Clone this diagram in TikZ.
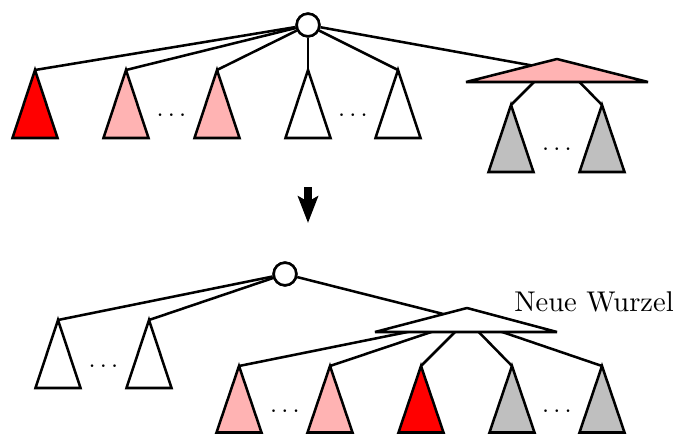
\documentclass[tikz,border=0pt]{standalone}
\usepackage{fontspec}
\usetikzlibrary{arrows.meta}
\definecolor{redt}{RGB}{255,0,0}
\definecolor{pinkt}{RGB}{255,179,179}
\definecolor{grayt}{RGB}{191,191,191}
\newcommand\subtri[3]{\filldraw[tri,fill=#2] (#1) -- ++(-22.5,#3) -- ++(45,0) -- cycle;}
\begin{document}
\begin{tikzpicture}[x=0.75pt,y=-0.75pt,
  edge/.style={draw,line width=1.9pt},
  tri/.style={draw,line width=1.9pt},
  flattri/.style={draw,line width=1.9pt,line join=bevel},
  knot/.style={circle,draw,fill=white,line width=1.9pt,minimum size=17pt,inner sep=0pt},
  dotsnode/.style={anchor=base,inner sep=0pt,scale=1.9},
  label/.style={anchor=base,inner sep=0pt,scale=2.14}]
\useasboundingbox (0,0) rectangle (675,435);
% ---------- top tree ----------
\coordinate (tA) at (35,70);
\coordinate (tB) at (126,70);
\coordinate (tC) at (217,70);
\coordinate (tD) at (308,70);
\coordinate (tE) at (398,70);
\coordinate (tFl) at (466,82);
\coordinate (tFtop) at (557,59);
\coordinate (tFr) at (648,82);
\coordinate (tFc) at (557,70);
\coordinate (tG) at (511,105);
\coordinate (tH) at (602,105);
\node[knot] (troot) at (308,25) {};
\foreach \t in {tA,tB,tC,tD,tE,tFc} \draw[edge] (troot) -- (\t);
\draw[edge] (tFtop) -- (tG);
\draw[edge] (tFtop) -- (tH);
\subtri{tA}{redt}{68}
\subtri{tB}{pinkt}{68}
\subtri{tC}{pinkt}{68}
\subtri{tD}{white}{68}
\subtri{tE}{white}{68}
\subtri{tG}{grayt}{67}
\subtri{tH}{grayt}{67}
\filldraw[flattri,fill=pinkt] (tFl) -- (tFtop) -- (tFr) -- cycle;
\node[knot] at (troot) {};
\node[dotsnode] (td1) at (171.5,122) {$\cdots$};
\node[dotsnode] (td2) at (353,122) {$\cdots$};
\node[dotsnode] (td3) at (557,156) {$\cdots$};
% ---------- arrow ----------
\coordinate (arrS) at (308,187);
\coordinate (arrE) at (308,223);
\draw[line width=6pt,-{Stealth[length=20pt,width=15pt,inset=4pt]}] (arrS) -- (arrE);
% ---------- bottom tree ----------
\coordinate (bA) at (58,320);
\coordinate (bB) at (149,320);
\coordinate (bFl) at (375,332);
\coordinate (bFtop) at (467,308);
\coordinate (bFr) at (557,332);
\coordinate (bFc) at (467,320);
\coordinate (bC) at (239,366);
\coordinate (bD) at (330,366);
\coordinate (bE) at (421,366);
\coordinate (bG) at (512,366);
\coordinate (bH) at (602,366);
\node[knot] (broot) at (285,274) {};
\foreach \t in {bA,bB,bFc} \draw[edge] (broot) -- (\t);
\foreach \t in {bC,bD,bE,bG,bH} \draw[edge] (bFc) -- (\t);
\subtri{bA}{white}{68}
\subtri{bB}{white}{68}
\subtri{bC}{pinkt}{66.5}
\subtri{bD}{pinkt}{66.5}
\subtri{bE}{redt}{66.5}
\subtri{bG}{grayt}{66.5}
\subtri{bH}{grayt}{66.5}
\filldraw[flattri,fill=white] (bFl) -- (bFtop) -- (bFr) -- cycle;
\node[knot] at (broot) {};
\node[dotsnode] (bd1) at (103.5,372) {$\cdots$};
\node[dotsnode] (bd2) at (285,417) {$\cdots$};
\node[dotsnode] (bd3) at (557,417) {$\cdots$};
\node[label] (neu) at (594,311) {Neue Wurzel};
\end{tikzpicture}
\end{document}
